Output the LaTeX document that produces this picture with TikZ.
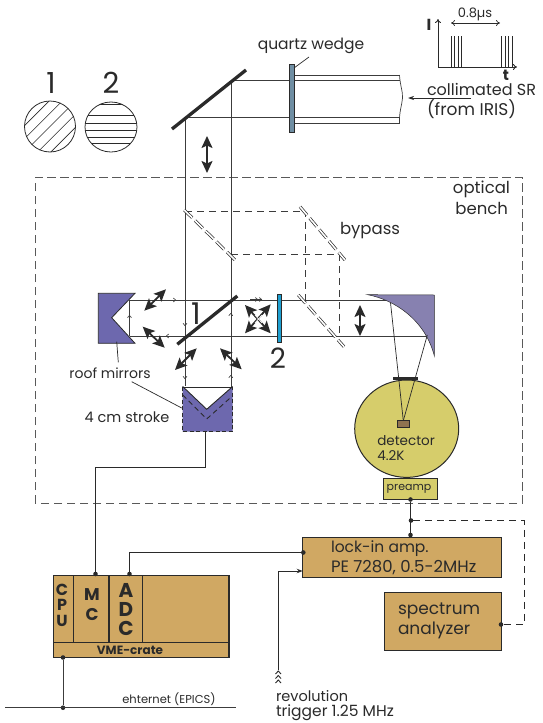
\documentclass[tikz,border=0pt]{standalone}
\usepackage{fontspec}
\setmainfont{Poppins}
\usetikzlibrary{arrows.meta,shapes.geometric}
\definecolor{boxc}{HTML}{D0A863}
\definecolor{purp}{HTML}{6D68AE}
\definecolor{fmir}{HTML}{8781B0}
\definecolor{detc}{HTML}{D6CD6B}
\definecolor{wedg}{HTML}{6F8EA3}
\definecolor{plate}{HTML}{1E9FD0}
\definecolor{ink}{HTML}{2A2A2A}
\definecolor{beam}{HTML}{3C3C3C}
\definecolor{chipc}{HTML}{8F7350}
\newcommand\fs[1]{\fontsize{#1}{#1}\selectfont}
\tikzset{
 lab/.style={inner sep=0pt,outer sep=0pt,text=ink,anchor=west,font=\fs{#1}},
 clab/.style={inner sep=0pt,outer sep=0pt,text=ink,anchor=center,font=\fs{#1}},
 blab/.style={inner sep=0pt,outer sep=0pt,text=ink,anchor=center,font=\fs{#1}\bfseries},
 beamline/.style={draw=beam,line width=1pt},
 thin line/.style={draw=ink,line width=0.7pt},
 bdash/.style={draw=beam,line width=1pt,dash pattern=on 7pt off 5pt},
 benchline/.style={draw=beam!85,line width=1pt,dash pattern=on 8.5pt off 4.5pt},
 dmirror/.style={draw=ink,line width=0.7pt,double=white,double distance=1.6pt,dash pattern=on 11pt off 4pt},
 box/.style={draw=ink,line width=1.4pt,fill=boxc,inner sep=0pt,outer sep=0pt,anchor=north west},
 dot/.style={circle,fill=ink,inner sep=0pt,outer sep=0pt,minimum size=4.6pt},
 wire/.style={draw=ink,line width=1.2pt},
 dbl/.style={draw=ink,line width=1.8pt,{Stealth[length=12pt,width=11pt,inset=2.5pt]}-{Stealth[length=12pt,width=11pt,inset=2.5pt]}},
 small/.style={draw=beam,line width=0.6pt,-{To[length=3pt,width=4.5pt]}},
 mirrorbar/.style={draw=ink,line width=3.3pt},
}
\begin{document}
\begin{tikzpicture}[x=1pt,y=-1pt]
\useasboundingbox (0,0) rectangle (542,723);
% bench
\draw[benchline] (35,503) -- (35,177) -- (522,177) -- (522,503) -- cycle;
% pol circles
\node[clab=29] (one) at (51,83) {1};
\node[clab=29] (two) at (111,83) {2};
\begin{scope}
\clip (50,126.5) circle (25.5);
\foreach \k in {-4,...,4}{
 \draw[ink,line width=0.6pt] (50,126.5) ++(\k*6.6,\k*6.6) ++(-40,40) -- ++(80,-80);
}
\end{scope}
\draw[ink,line width=0.8pt] (50,126.5) circle (25.5);
\begin{scope}
\clip (111,127) ellipse (26 and 25);
\foreach \y in {104,115,123.3,130.7,137.3,143.3}{
 \draw[ink,line width=0.7pt] (80,\y) -- (140,\y);
}
\end{scope}
\draw[ink,line width=0.8pt] (111,127) ellipse (26 and 25);
% beams
\coordinate (m1t) at (231,80);
\coordinate (m1b) at (185,117);
\coordinate (pR1) at (399.5,80);
\coordinate (pR2) at (399.5,117);
\draw[beamline] (m1t) -- (pR1);
\draw[beamline] (m1b) -- (pR2);
\draw[beamline] (399.5,75) -- (294,75);
\draw[beamline] (399.5,123) -- (294,123);
\draw[beam,line width=0.7pt] (399.5,75) .. controls (400,85) and (403,92) .. (402.5,98) .. controls (402,105) and (399,112) .. (399.5,123);
\draw[beamline] (231,80) -- (231,387);
\draw[beamline] (185,117) -- (185,386);
\draw[beamline] (129.5,300) -- (390,300);
\draw[beamline] (129.5,336) -- (427.3,336);
\draw[beamline] (129.5,300) -- (129.5,336);
% wedge
\node[draw=ink,line width=0.8pt,fill=wedg,inner sep=0pt,outer sep=0pt,minimum width=4.5pt,minimum height=68pt] (wedge) at (291.7,98) {};
\draw[mirrorbar] (172,129) -- (246,70);
\draw[dbl] (207,136) -- (207,173);
% top labels
\node[clab=15.5] (qw) at (311,46) {quartz wedge};
\draw[thin line] (309,57) -- (294,68);
\node[lab=16] (cs1) at (427,89) {collimated SR};
\node[lab=17] (cs2) at (427,109) {(from IRIS)};
\draw[draw=ink,line width=0.7pt,-{Stealth[length=6pt,width=4pt]}] (471,98) -- (408,98);
% inset
\coordinate (ori) at (438,67);
\draw[draw=ink,line width=0.9pt,-{To[length=4pt,width=6pt]}] (ori) -- (438,19);
\draw[draw=ink,line width=0.9pt,-{To[length=4pt,width=6pt]}] (ori) -- (517,67);
\node[blab=16] (ii) at (429,25) {I};
\node[blab=15] (tt) at (506,75) {t};
\node[clab=13] (us) at (475,14.5) {0.8µs};
\draw[draw=ink,line width=0.7pt,{To[length=4pt,width=6pt]}-{To[length=4pt,width=6pt]}] (451,23) -- (500,23);
\foreach \x in {451,454.7,458,461.3,501.3,505,508.3,512}{\draw[draw=ink,line width=0.6pt] (\x,36) -- (\x,67);}
% bypass
\draw[bdash] (185,211) -- (305.7,211) -- (305.7,300);
\draw[bdash] (231,254) -- (339,254) -- (339,336);
\draw[dmirror] (184.3,210) -- (235,260);
\draw[dmirror] (300,206.7) -- (345,260);
\draw[dmirror] (298.3,295) -- (344,346.7);
\node[clab=16.5] (byp) at (370,231) {bypass};
\node[clab=16.5,anchor=east] (opt) at (510,189) {optical};
\node[clab=16.5,anchor=east] (ben) at (508,208) {bench};
% roof mirror left
\fill[purp] (98.3,293.3) -- (135,293.3) -- (111.7,317.7) -- (135,343.3) -- (98.3,343.3) -- cycle;
\draw[ink,line width=0.8pt] (135,293.3) -- (98.3,293.3) -- (98.3,343.3) -- (135,343.3) -- (111.7,317.7) -- cycle;
\draw[mirrorbar] (177.3,344.3) -- (237.3,296);
\node[clab=30] (lbl1) at (196,314) {1};
% moving mirror
\fill[purp] (182.7,386.5) -- (206.7,409.3) -- (232.7,386.5) -- (232.7,431.7) -- (182.7,431.7) -- cycle;
\draw[ink,line width=0.8pt] (182.7,387) -- (232.7,387);
\draw[ink,line width=0.9pt] (182.7,386.5) -- (206.7,409.3) -- (232.7,386.5);
\draw[ink,line width=1pt,dash pattern=on 4pt off 2.5pt] (182.7,386.5) -- (182.7,431.7) -- (232.7,431.7) -- (232.7,386.5);
\draw[ink,line width=0.9pt,dash pattern=on 5pt off 3.5pt] (182.7,395) -- (206.7,419) -- (232.7,395.7);
% small arrows
\draw[small] (170,300) -- (176,300);
\draw[small] (172,336) -- (166,336);
\draw[small] (185,320) -- (185,326);
\draw[small] (230.8,319) -- (230.8,313);
\draw[small] (185,373) -- (185,379);
\draw[small] (230.8,381) -- (230.8,375);
\draw[small] (129.5,321) -- (129.5,315);
\draw[small] (250,299.5) -- (258,299.5);
\draw[small] (254,299.5) -- (262,299.5);
% double arrows
\draw[dbl] (144.3,310.7) -- (166,289.3);
\draw[dbl] (142.7,326.7) -- (164.7,347.7);
\draw[dbl] (175,370) -- (196.7,348.3);
\draw[dbl] (220,348.3) -- (241.7,369.3);
\draw[dbl] (245,333.3) -- (270.7,304.3);
\draw[dbl] (245,305) -- (270.7,333.3);
\draw[white,line width=0.7pt] (255,323) -- (262,315);
\draw[white,line width=0.7pt] (255,315) -- (262,323);
\draw[dbl] (360,305) -- (360,336);
% plate 2
\node[draw=ink,line width=0.5pt,fill=plate,inner sep=0pt,outer sep=0pt,minimum width=4pt,minimum height=48.4pt] (pl) at (279.3,318.5) {};
\node[clab=28] (lbl2) at (278,358) {2};
% focus mirror
\fill[fmir,draw=ink,line width=0.5pt] (367.7,294.7) .. controls (395,300) and (425,320) .. (434.3,355.7) -- (434.3,295) -- cycle;
\coordinate (chip) at (403.3,420.7);
% detector
\node[draw=ink,line width=1pt,fill=detc,ellipse,inner sep=0pt,outer sep=0pt,minimum width=104pt,minimum height=97.4pt] (det) at (406.7,428.7) {};
\draw[thin line] (390.5,302.7) -- (chip);
\draw[thin line] (427.3,335) -- (chip);
\draw[draw=ink,line width=3pt] (393.3,378.7) -- (417.7,378.7);
\node[draw=ink,line width=0.5pt,fill=chipc,inner sep=0pt,outer sep=0pt,minimum width=12pt,minimum height=7pt] (chipbox) at (403.3,424.2) {};
\node[lab=13.5] (dt1) at (377.3,440.7) {detector};
\node[lab=13.5] (dt2) at (377.3,456) {4.2K};
\node[draw=ink,line width=1pt,fill=detc,inner sep=0pt,outer sep=0pt,minimum width=54pt,minimum height=21.3pt] (pre) at (410.3,488.7) {};
\node[clab=11] (pret) at (409,488.7) {preamp};
% labels roof
\node[clab=14] (rm) at (110,373) {roof mirrors};
\node[clab=14.5] (st) at (127,417.5) {4 cm stroke};
\draw[thin line] (116.7,341.7) -- (118.3,362.3);
\draw[thin line] (131.7,381.7) -- (181.7,408);
% boxes
\node[box,minimum width=199pt,minimum height=40pt] (lock) at (302.7,537.7) {};
\node[lab=15.5] (l1) at (331,549) {lock-in amp.};
\node[lab=16.5] (l2) at (331,568) {PE 7280, 0.5-2MHz};
\node[box,minimum width=117.4pt,minimum height=57.6pt] (spec) at (384.3,592.7) {};
\node[lab=17] (s1) at (398,610.5) {spectrum};
\node[lab=17] (s2) at (398,630.5) {analyzer};
\node[box,minimum width=175.7pt,minimum height=82pt] (vme) at (53.3,575.3) {};
\draw[draw=ink,line width=1.1pt] (53.3,642.3) -- (229,642.3);
\draw[draw=ink,line width=1.1pt] (73.6,575.3) -- (73.6,642.3);
\draw[draw=ink,line width=1.3pt] (109,575.3) -- (109,642.3);
\draw[draw=ink,line width=1.1pt] (142.7,575.3) -- (142.7,642.3);
\node[blab=16] (c1) at (62,590) {C};
\node[blab=16] (c2) at (62,605) {P};
\node[blab=16] (c3) at (62,621) {U};
\node[blab=17] (m1) at (92,595) {M};
\node[blab=17] (m2) at (92,614) {C};
\node[blab=20] (a1) at (126,590.5) {A};
\node[blab=20] (a2) at (126,609) {D};
\node[blab=20] (a3) at (126,628) {C};
\node[blab=12] (vt) at (130,650) {VME-crate};
% wires
\node[dot] (dmc) at (95.5,574) {};
\node[dot] (dadc) at (129.5,574) {};
\node[dot] (dlock) at (303.3,552.5) {};
\node[dot] (dpre) at (410.5,499.5) {};
\node[dot] (dsplit) at (411,520.5) {};
\node[dot] (dtop) at (410.5,535) {};
\node[dot] (dspec) at (501,624.5) {};
\node[dot] (dv) at (63,657.5) {};
\node[dot] (deth) at (63,707.7) {};
\draw[wire] (205.5,432) -- (205.5,467.5) -- (95.5,467.5) -- (dmc);
\draw[wire] (dadc) -- (129.5,552.5) -- (dlock);
\draw[wire] (dpre) -- (dtop);
\draw[draw=ink,line width=1pt,dash pattern=on 7pt off 5pt] (dsplit) -- (524,520.5) -- (524,624.5) -- (dspec);
\draw[beamline] (dv) -- (deth);
\coordinate (ethL) at (5,707.7);
\coordinate (ethR) at (236,707.7);
\draw[beamline] (ethL) -- (ethR);
\node[clab=11.5] (eth) at (169,699) {ehternet (EPICS)};
% trigger
\coordinate (tr) at (278.5,670);
\draw[wire,line width=1pt,-{Stealth[length=6pt,width=4.5pt]}] (tr) -- (278.5,571) -- (302.7,571);
\foreach \y in {672.5,677,681.5}{\draw[ink,line width=0.9pt] (275.5,\y+1.5) -- (278.3,\y-1.5) -- (281,\y+1.5);}
\node[lab=14.5] (rv) at (276,696.5) {revolution};
\node[lab=15.5] (tg) at (276,713) {trigger 1.25 MHz};
\end{tikzpicture}
\end{document}
